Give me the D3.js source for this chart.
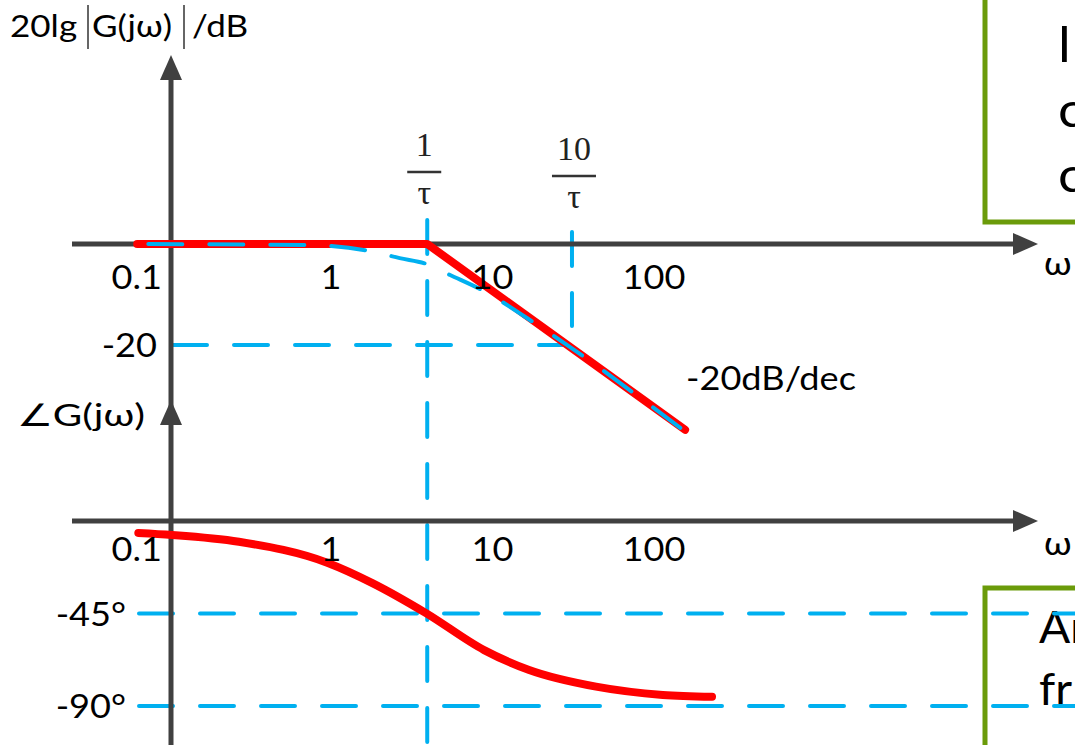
<!DOCTYPE html>
<html>
<head>
<meta charset="utf-8">
<script src="https://cdn.jsdelivr.net/npm/d3@7"></script>
<style>
  body { margin: 0; background: #fff; }
  svg { display: block; font-family: Lato, "Open Sans", sans-serif; }
</style>
</head>
<body>
<div id="chart"></div>
<script>
const [width, height] = [1075, 745];

// decade tick labels on both frequency axes
const freqTicks = [0.1, 1, 10, 100];
const freqLabels = ["0.1", "1", "10", "100"];
const magTicks = [-20];
const magLabels = ["-20"];
const phaseTicks = [-45, -90];
const phaseLabels = ["-45°", "-90°"];

// corner frequency 1/τ and the 10/τ mark (as drawn)
const cornerW = 4;
const tenCornerW = 31.5;

// asymptotic magnitude (red)
const asymW = [0.064, 4, 158];
const asymDb = [0, 0, -36.8];

// exact magnitude (blue dashed)
const exactW = [0.075, 0.32, 0.72, 1.7, 2.7, 4.0, 5.5, 8.7, 20, 153];
const exactDb = [0, -0.1, -0.2, -1.3, -2.8, -4.0, -6.1, -9.1, -16.4, -36.8];

// phase (red)
const phaseW = [0.065, 0.105, 0.273, 0.97, 1.83, 3.93, 9.0, 17.1, 44.4, 115, 232];
const phaseDeg = [-5.8, -6.8, -10.1, -20.4, -30.2, -44.8, -62.8, -72.5, -80.6, -84.6, -85.5];

const axisColor = "#404040", red = "#ff0000", blue = "#00b0f0", green = "#6b9b0a";

const svg = d3.select("#chart").append("svg")
  .attr("width", width).attr("height", height);

// slide text is a bit stretched sideways
function txt(sel, x, y, str, size, anchor, sx) {
  return sel.append("text")
    .attr("transform", `translate(${x},${y}) scale(${sx || 1.13},1)`)
    .attr("font-size", size).attr("text-anchor", anchor || "start")
    .attr("fill", "#000").text(str);
}

// scales
const x = d3.scaleLog().domain([1, 100]).range([330, 653]);
const yMag = d3.scaleLinear().domain([0, -20]).range([244, 345]);
const yPh = d3.scaleLinear().domain([0, -90]).range([521, 706]);
const axisX = 171;

// green boxes (partly off the page)
svg.append("rect").attr("x", 985).attr("y", -10).attr("width", 200).attr("height", 232)
  .attr("fill", "#fff").attr("stroke", green).attr("stroke-width", 5);
svg.append("rect").attr("x", 985).attr("y", 588).attr("width", 200).attr("height", 200)
  .attr("fill", "none").attr("stroke", green).attr("stroke-width", 5);

const boxText1 = ["l", "c", "c"];
boxText1.forEach((t, i) => txt(svg, 1058, 62 + i * 65, t, 48));
const boxText2 = ["Ar", "fr"];
boxText2.forEach((t, i) => txt(svg, 1039, 643 + i * 62, t, 44, "start", 1.05));

// dashed helper lines
const dash = g => g.attr("stroke", blue).attr("stroke-width", 4)
  .attr("stroke-dasharray", "34 27").attr("stroke-linecap", "round").attr("fill", "none");

svg.append("line").attr("x1", x(cornerW)).attr("x2", x(cornerW))
  .attr("y1", 220).attr("y2", 745).call(dash);
svg.append("line").attr("x1", x(tenCornerW)).attr("x2", x(tenCornerW))
  .attr("y1", 232).attr("y2", 326).call(dash);

// -20 dB guide ends where the asymptote reaches -20
const slope = (asymDb[2] - asymDb[1]) / Math.log10(asymW[2] / asymW[1]);
const w20 = cornerW * Math.pow(10, -20 / slope);
svg.append("line").attr("x1", 173).attr("x2", x(w20))
  .attr("y1", yMag(-20)).attr("y2", yMag(-20)).call(dash);

phaseTicks.forEach(p => {
  svg.append("line").attr("x1", 139).attr("x2", 1080)
    .attr("y1", yPh(p)).attr("y2", yPh(p)).call(dash);
});

// axes
const axes = svg.append("g").attr("stroke", axisColor).attr("stroke-width", 5);
axes.append("line").attr("x1", axisX).attr("x2", axisX).attr("y1", 75).attr("y2", 745);
axes.append("line").attr("x1", 72).attr("x2", 1020).attr("y1", yMag(0)).attr("y2", yMag(0));
axes.append("line").attr("x1", 72).attr("x2", 1020).attr("y1", yPh(0)).attr("y2", yPh(0));

const arrows = svg.append("g").attr("fill", axisColor);
arrows.append("path").attr("d", `M${axisX},55 L${axisX - 11},80 L${axisX + 11},80 Z`);
arrows.append("path").attr("d", `M${axisX},400 L${axisX - 11},425 L${axisX + 11},425 Z`);
[yMag(0), yPh(0)].forEach(yy => {
  arrows.append("path").attr("d", `M1038,${yy} L1013,${yy - 11} L1013,${yy + 11} Z`);
});

// curves
const magLine = d3.line().x(d => x(d[0])).y(d => yMag(d[1]));
const phLine = d3.line().x(d => x(d[0])).y(d => yPh(d[1])).curve(d3.curveMonotoneX);

svg.append("path").datum(d3.zip(asymW, asymDb))
  .attr("d", magLine).attr("fill", "none").attr("stroke", red)
  .attr("stroke-width", 8).attr("stroke-linecap", "round").attr("stroke-linejoin", "round");

svg.append("path").datum(d3.zip(exactW, exactDb))
  .attr("d", magLine.curve(d3.curveMonotoneX)).call(dash);

svg.append("path").datum(d3.zip(phaseW, phaseDeg))
  .attr("d", phLine).attr("fill", "none").attr("stroke", red)
  .attr("stroke-width", 8).attr("stroke-linecap", "round");

// tick labels
[289, 561].forEach(by => {
  freqTicks.forEach((d, i) => {
    if (i === 0) txt(svg, 162, by, freqLabels[i], 32, "end");
    else txt(svg, x(d) + 1, by, freqLabels[i], 32, "middle");
  });
});

magTicks.forEach((d, i) => txt(svg, 157, yMag(d) + 12, magLabels[i], 32, "end"));
phaseTicks.forEach((d, i) => txt(svg, 126, yPh(d) + 12, phaseLabels[i], 32, "end"));

// axis titles
txt(svg, 10, 37, "20lg", 31);
txt(svg, 92, 37, "G(jω)", 31);
txt(svg, 192, 37, "/dB", 31);
svg.append("g").attr("stroke", "#333").attr("stroke-width", 1.5)
  .selectAll("line").data([88, 184]).enter().append("line")
  .attr("x1", d => d).attr("x2", d => d).attr("y1", 5).attr("y2", 49);

txt(svg, 17, 426, "∠G(jω)", 31, "start", 1.3);
txt(svg, 1044, 275, "ω", 32);
txt(svg, 1044, 555, "ω", 32);

txt(svg, 686, 390, "-20dB/dec", 32);

// fraction labels 1/τ and 10/τ
const fracNum = ["1", "10"];
const fracW = [cornerW, tenCornerW];
const fracBar = [172, 176];
const fracHalf = [17, 22];
fracW.forEach((w, i) => {
  const cx = x(w) + (i === 0 ? -3 : 2);
  const by = fracBar[i];
  const g = svg.append("g").attr("font-family", "'Liberation Serif', serif")
    .attr("font-size", 34).attr("text-anchor", "middle").attr("fill", "#222");
  g.append("text").attr("x", cx).attr("y", by - 16).text(fracNum[i]);
  g.append("line").attr("x1", cx - fracHalf[i]).attr("x2", cx + fracHalf[i])
    .attr("y1", by).attr("y2", by).attr("stroke", "#333").attr("stroke-width", 2.5);
  g.append("text").attr("x", cx).attr("y", by + 32).text("τ");
});
</script>
</body>
</html>
